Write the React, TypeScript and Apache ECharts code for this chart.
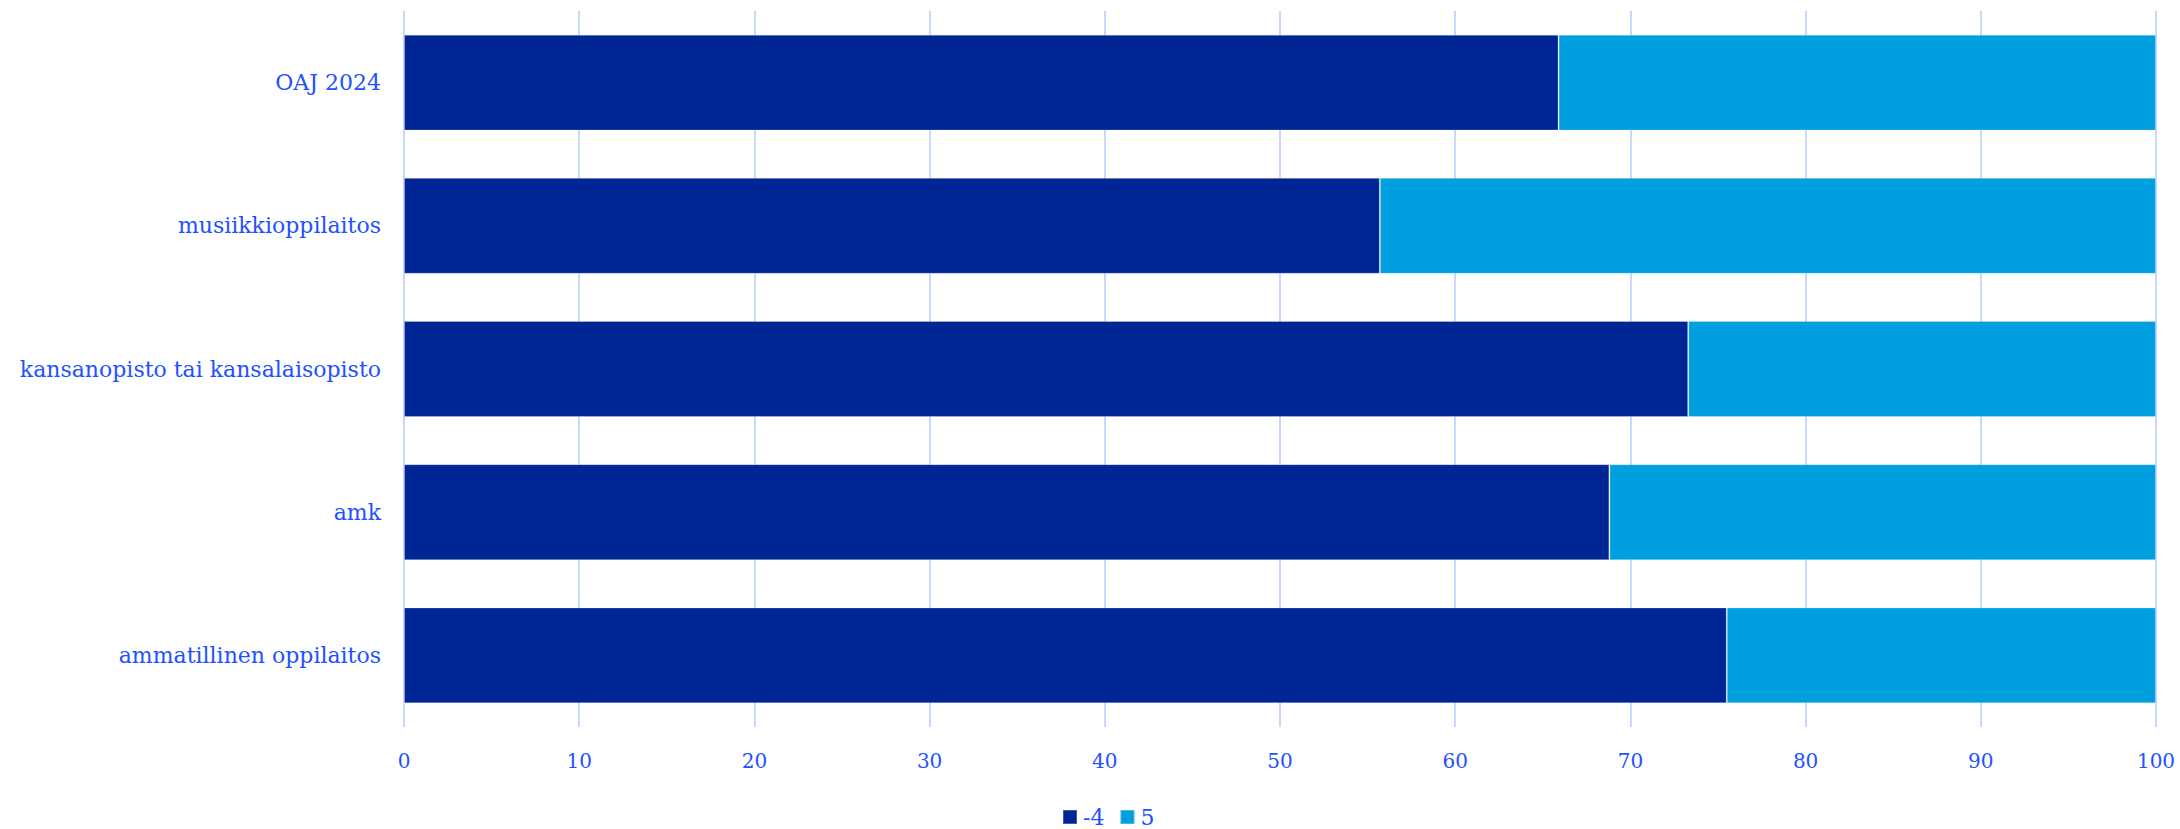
import React, { useEffect, useRef } from "react";
import * as echarts from "echarts";

const categories = [
  "OAJ 2024",
  "musiikkioppilaitos",
  "kansanopisto tai kansalaisopisto",
  "amk",
  "ammatillinen oppilaitos",
];
const seriesNames = ["-4", "5"];
const valuesLow = [65.9, 55.7, 73.3, 68.8, 75.5];
const valuesHigh = [34.1, 44.3, 26.7, 31.2, 24.5];
const xTicks = [0, 10, 20, 30, 40, 50, 60, 70, 80, 90, 100];

const TEXT = "#2252FF";
const FONT = "'DejaVu Serif', serif";

export default function App() {
  const ref = useRef<HTMLDivElement>(null);
  useEffect(() => {
    document.body.style.margin = "0";
    const chart = echarts.init(ref.current!, null, { renderer: "svg" });
    chart.setOption({
      animation: false,
      backgroundColor: "#ffffff",
      color: ["#002594", "#009FDF"],
      textStyle: { fontFamily: FONT },
      grid: { left: 404, right: 24, top: 11, height: 716, containLabel: false },
      legend: {
        data: seriesNames,
        top: 806,
        padding: 0,
        left: 1062,
        icon: "rect",
        itemWidth: 14,
        itemHeight: 14,
        itemGap: 15,
        textStyle: { color: TEXT, fontSize: 22, fontFamily: FONT, padding: [0, 0, 0, 1] },
      },
      xAxis: {
        type: "value",
        min: 0,
        max: 100,
        interval: 10,
        axisLine: { show: false },
        axisTick: { show: false },
        splitLine: { show: true, lineStyle: { color: "#C9D7FF", width: 2 } },
        axisLabel: {
          color: TEXT,
          fontSize: 20,
          fontFamily: FONT,
          margin: 24,
          formatter: (v: number) => (xTicks.includes(v) ? String(v) : ""),
        },
      },
      yAxis: {
        type: "category",
        data: categories,
        inverse: true,
        axisLine: { show: false },
        axisTick: { show: false },
        axisLabel: { color: TEXT, fontSize: 22, fontFamily: FONT, margin: 23 },
      },
      series: [
        {
          name: seriesNames[0],
          type: "bar",
          stack: "total",
          data: valuesLow,
          barWidth: "67%",
          itemStyle: { borderColor: "rgba(255,255,255,0.25)", borderWidth: 1 },
        },
        {
          name: seriesNames[1],
          type: "bar",
          stack: "total",
          data: valuesHigh,
          barWidth: "67%",
          itemStyle: { borderColor: "rgba(255,255,255,0.25)", borderWidth: 1 },
        },
      ],
    });
    return () => chart.dispose();
  }, []);
  return <div ref={ref} style={{ width: 2180, height: 829 }} />;
}
